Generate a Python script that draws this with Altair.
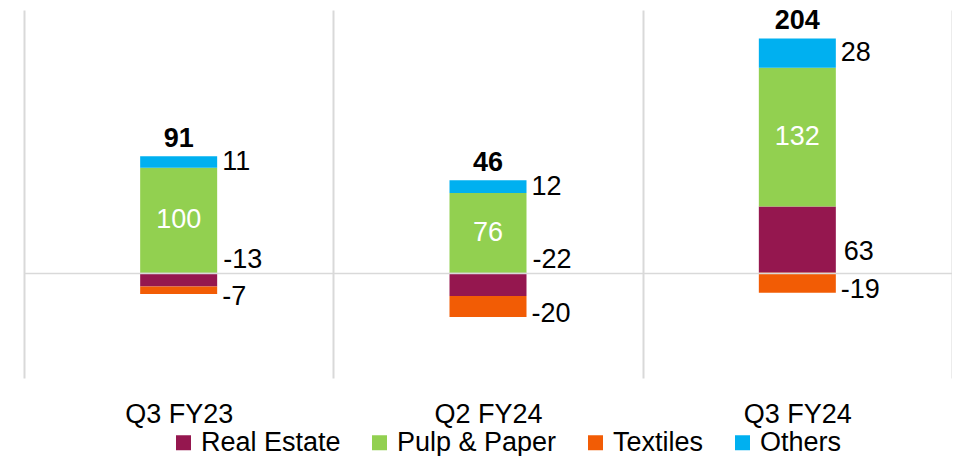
import altair as alt
import pandas as pd

categories = ["Q3 FY23", "Q2 FY24", "Q3 FY24"]
series = ["Real Estate", "Pulp & Paper", "Textiles", "Others"]
colors = ["#95174F", "#92D050", "#F25C05", "#00B0F0"]
real_estate = [-13, -22, 63]
pulp_paper = [100, 76, 132]
textiles = [-7, -20, -19]
others = [11, 12, 28]

values_by_series = [real_estate, pulp_paper, textiles, others]
rows = []
for si, (s, vals) in enumerate(zip(series, values_by_series)):
    for ci, c in enumerate(categories):
        rows.append({"category": c, "series": s, "value": vals[ci], "label": str(vals[ci]), "order": si})
df = pd.DataFrame(rows)

tot_rows = []
for ci, c in enumerate(categories):
    vals = [v[ci] for v in values_by_series]
    tot_rows.append({"category": c, "total": str(sum(vals)), "top": sum(x for x in vals if x > 0)})
tot = pd.DataFrame(tot_rows)

FONT = "Liberation Sans"
FS = 27
BAR = 77

x_enc = alt.X(
    "category:N",
    sort=categories,
    scale=alt.Scale(paddingInner=0, paddingOuter=0),
    axis=alt.Axis(
        title=None, labelAngle=0, domain=False, ticks=False, grid=True,
        gridColor="#d9d9d9", gridWidth=2, tickBand="extent",
        labelFontSize=FS, labelFont=FONT, labelColor="black", labelPadding=23,
    ),
)
y_scale = alt.Scale(domain=[-100, 250], nice=False, zero=False)

base = alt.Chart(df).transform_stack(
    stack="value",
    groupby=["category"],
    sort=[alt.SortField("order", order="ascending")],
    as_=["y0", "y1"],
    offset="zero",
).transform_calculate(mid="(datum.y0 + datum.y1) / 2")

bars = base.mark_bar(size=BAR).encode(
    x=x_enc,
    y=alt.Y(
        "y0:Q", scale=y_scale,
        axis=alt.Axis(values=[0], grid=True, gridColor="#d9d9d9", gridWidth=1.5,
                      labels=False, ticks=False, domain=False, title=None, zindex=1),
    ),
    y2="y1:Q",
    color=alt.Color(
        "series:N",
        scale=alt.Scale(domain=series, range=colors),
        legend=alt.Legend(
            title=None, orient="none", legendX=146, legendY=419, direction="horizontal",
            symbolType="square", symbolSize=225, symbolStrokeWidth=0, padding=0,
            labelFontSize=FS, labelFont=FONT, labelColor="black",
            labelOffset=4, columnPadding=25, labelLimit=400,
        ),
    ),
)

xs = alt.X("category:N", sort=categories)

pulp_lbl = base.transform_filter(alt.datum.series == "Pulp & Paper").mark_text(
    color="white", fontSize=FS, font=FONT, baseline="middle"
).encode(x=xs, y=alt.Y("mid:Q", scale=y_scale), text="label:N")

others_lbl = base.transform_filter(alt.datum.series == "Others").mark_text(
    color="black", fontSize=FS, font=FONT, baseline="middle", align="left", dx=BAR / 2 + 5
).encode(x=xs, y=alt.Y("mid:Q", scale=y_scale), text="label:N")

tex_lbl = base.transform_filter(alt.datum.series == "Textiles").mark_text(
    color="black", fontSize=FS, font=FONT, baseline="middle", align="left", dx=BAR / 2 + 5, dy=7
).encode(x=xs, y=alt.Y("mid:Q", scale=y_scale), text="label:N")

re_neg = base.transform_filter(
    (alt.datum.series == "Real Estate") & (alt.datum.value < 0)
).mark_text(
    color="black", fontSize=FS, font=FONT, baseline="middle", align="left", dx=BAR / 2 + 6, dy=-13
).encode(x=xs, y=alt.datum(0), text="label:N")

re_pos = base.transform_filter(
    (alt.datum.series == "Real Estate") & (alt.datum.value >= 0)
).mark_text(
    color="black", fontSize=FS, font=FONT, baseline="middle", align="left", dx=BAR / 2 + 8, dy=-21
).encode(x=xs, y=alt.datum(0), text="label:N")

tot_lbl = alt.Chart(tot).mark_text(
    color="black", fontSize=FS, font=FONT, fontWeight="bold", baseline="alphabetic", dy=-9
).encode(x=xs, y=alt.Y("top:Q", scale=y_scale), text="total:N")

chart = alt.layer(bars, pulp_lbl, others_lbl, tex_lbl, re_neg, re_pos, tot_lbl).properties(
    width=928, height=368,
    padding={"left": 16, "top": 2, "right": 0, "bottom": 78},
    autosize=alt.AutoSizeParams(type="none"),
).configure(font=FONT, view=alt.ViewConfig(stroke=None))

chart.save("out.html", embed_options={"renderer": "svg", "actions": False})
